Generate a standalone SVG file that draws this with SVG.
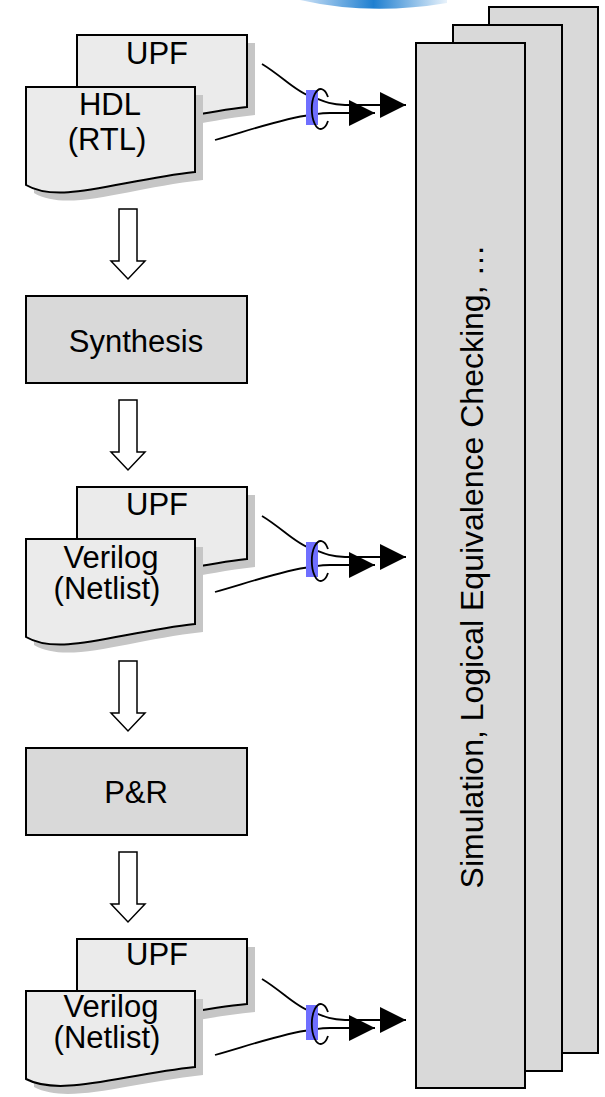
<svg xmlns="http://www.w3.org/2000/svg" width="605" height="1097" viewBox="0 0 605 1097">
<defs>
<style>
text{font-family:"Liberation Sans",Arial,sans-serif;font-size:31px;fill:#000}
.doc{fill:#ebebeb;stroke:#000;stroke-width:2}
.shadow{fill:#c6c6c6;stroke:none}
.box{fill:#d9d9d9;stroke:#000;stroke-width:2}
.blk{fill:#fff;stroke:#000;stroke-width:1.5}
.con{fill:none;stroke:#000;stroke-width:1.8}
.cpl{fill:#6f6fff;stroke:none}
.ring{fill:none;stroke:#000;stroke-width:1.8}
</style>
<linearGradient id="logo" x1="0" y1="0" x2="1" y2="0">
<stop offset="0" stop-color="#cfe3f7"/>
<stop offset="0.5" stop-color="#1f7fd0"/>
<stop offset="1" stop-color="#e8f2fb"/>
</linearGradient>
<marker id="ah" viewBox="0 0 26 26" markerWidth="26" markerHeight="26" refX="26" refY="13" orient="auto" markerUnits="userSpaceOnUse">
<path d="M0,0 L26,13 L0,26 Z" fill="#000"/>
</marker>
</defs>
<rect width="605" height="1097" fill="#fff"/>
<path id="logo-swoosh" d="M300,0 Q370,16 447,3 L447,0 Z" fill="url(#logo)"/>

<g id="tools-stack">
<rect class="box" x="489" y="7" width="109" height="1046"/>
<rect class="box" x="453" y="25" width="109" height="1046"/>
<rect class="box" x="416" y="43" width="109" height="1045"/>
<text transform="translate(483,566.5) rotate(-90)" text-anchor="middle" style="font-size:32px">Simulation, Logical Equivalence Checking, …</text>
</g>

<g id="upf-1">
<path class="shadow" d="M85,43 H255 V115 C180,123 120,148 85,128 Z"/>
<path class="doc" d="M77,35 H247 V107 C172,115 112,140 77,120 Z"/>
<text x="157" y="64" text-anchor="middle">UPF</text>
</g>
<g id="hdl-rtl">
<path class="shadow" d="M34,95 H203 V180 C128,188 68,213 34,193 Z"/>
<path class="doc" d="M26,87 H195 V172 C120,180 60,205 26,185 Z"/>
<text x="110" y="115" text-anchor="middle">HDL</text>
<text x="107" y="150" text-anchor="middle">(RTL)</text>
</g>

<g id="synthesis">
<rect class="box" x="26" y="296" width="221" height="87"/>
<text x="136" y="352" text-anchor="middle">Synthesis</text>
</g>

<g id="upf-2">
<path class="shadow" d="M85,495 H255 V567 C180,575 120,600 85,580 Z"/>
<path class="doc" d="M77,487 H247 V559 C172,567 112,592 77,572 Z"/>
<text x="157" y="515" text-anchor="middle">UPF</text>
</g>
<g id="verilog-netlist-1">
<path class="shadow" d="M34,547 H203 V632 C128,640 68,665 34,645 Z"/>
<path class="doc" d="M26,539 H195 V624 C120,632 60,657 26,637 Z"/>
<text x="111" y="568" text-anchor="middle">Verilog</text>
<text x="107" y="599" text-anchor="middle">(Netlist)</text>
</g>

<g id="p-and-r">
<rect class="box" x="26" y="748" width="221" height="87"/>
<text x="136" y="803" text-anchor="middle">P&amp;R</text>
</g>

<g id="upf-3">
<path class="shadow" d="M85,947 H255 V1012 C180,1019 120,1042 85,1024 Z"/>
<path class="doc" d="M77,939 H247 V1004 C172,1011 112,1034 77,1016 Z"/>
<text x="157" y="965" text-anchor="middle">UPF</text>
</g>
<g id="verilog-netlist-2">
<path class="shadow" d="M34,999 H203 V1075 C128,1083 68,1105 34,1087 Z"/>
<path class="doc" d="M26,991 H195 V1067 C120,1075 60,1097 26,1079 Z"/>
<text x="111" y="1017" text-anchor="middle">Verilog</text>
<text x="107" y="1048" text-anchor="middle">(Netlist)</text>
</g>

<g id="connectors">
<polygon class="blk" points="119,209 137,209 137,261 145,261 128,279 111,261 119,261"/>
<polygon class="blk" points="119,400 137,400 137,452 145,452 128,470 111,452 119,452"/>
<polygon class="blk" points="119,661 137,661 137,713 145,713 128,731 111,713 119,713"/>
<polygon class="blk" points="119,852 137,852 137,904 145,904 128,922 111,904 119,904"/>

<g transform="translate(0,0)">
<path class="con" d="M262,64 C282,76 296,92 310,96 C322,100 326,104 345,105 H406" marker-end="url(#ah)"/>
<path class="con" d="M215,140 C250,130 285,118 310,115 C318,114 320,113 330,113 H375" marker-end="url(#ah)"/>
<rect class="cpl" x="306" y="90" width="12" height="35"/>
<path class="ring" d="M328,97 A9,20 0 1 0 328,121"/>
</g>
<g transform="translate(0,452)">
<path class="con" d="M262,64 C282,76 296,92 310,96 C322,100 326,104 345,105 H406" marker-end="url(#ah)"/>
<path class="con" d="M215,140 C250,130 285,118 310,115 C318,114 320,113 330,113 H375" marker-end="url(#ah)"/>
<rect class="cpl" x="306" y="90" width="12" height="35"/>
<path class="ring" d="M328,97 A9,20 0 1 0 328,121"/>
</g>
<g transform="translate(0,915)">
<path class="con" d="M262,64 C282,76 296,92 310,96 C322,100 326,104 345,105 H406" marker-end="url(#ah)"/>
<path class="con" d="M215,140 C250,130 285,118 310,115 C318,114 320,113 330,113 H375" marker-end="url(#ah)"/>
<rect class="cpl" x="306" y="90" width="12" height="35"/>
<path class="ring" d="M328,97 A9,20 0 1 0 328,121"/>
</g>
</g>
</svg>
